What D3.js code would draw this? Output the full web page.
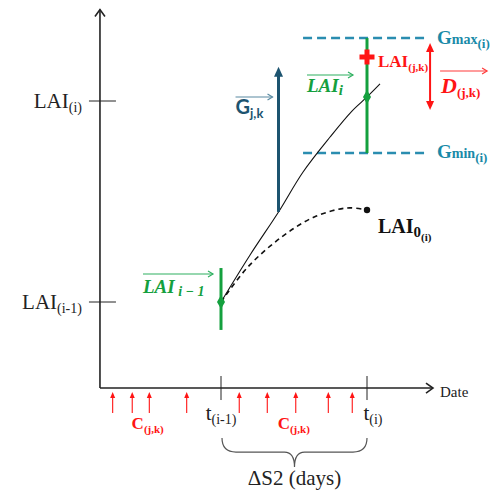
<!DOCTYPE html>
<html><head><meta charset="utf-8">
<script src="https://cdn.jsdelivr.net/npm/d3@7"></script>
<style>body{margin:0;background:#fff}</style>
</head><body><svg id="chart" width="499" height="496"></svg>
<script>
// Time in units of the revisit interval: t(i-1) = 0, t(i) = 1
const timeTicks = [{t: 0, sub: "(i-1)"}, {t: 1, sub: "(i)"}];
const laiTicks = [{v: 1, sub: "(i-1)"}, {v: 2, sub: "(i)"}];
const cropDatesBefore = [-0.742, -0.608, -0.491, -0.235];
const cropDatesWithin = [0.125, 0.317, 0.512, 0.735, 0.899];
const laiAssimilated = [[0, 1], [0.199, 1.234], [0.394, 1.448], [0.562, 1.647], [0.747, 1.821], [0.897, 1.95], [1, 2.02], [1.089, 2.085]];
const laiOpenLoop = [[0, 1], [0.184, 1.174], [0.415, 1.323], [0.639, 1.423], [0.864, 1.468], [1, 1.458]];
const growthIncrement = {t: 0.394, from: 1.448, to: 2.17};
const gBounds = {max: 2.313, min: 1.741, from: 0.562, to: 1.411};
const laiPrev = {t: 0, value: 1, low: 0.861, high: 1.169};
const laiCurr = {t: 1, value: 2.02};
const laiObs = {t: 1, value: 2.219};
const distance = {t: 1.432, low: 1.955, high: 2.289};
const axisExtent = {t: [-0.829, 1.452], v: [0.572, 2.455]};

const svg = d3.select("#chart");
const x = d3.scaleLinear().domain([0, 1]).range([221, 367]);
const y = d3.scaleLinear().domain([1, 2]).range([302, 101]);

const serif = '"Liberation Serif", "Times New Roman", serif';
const sans = 'Lato, "Open Sans", sans-serif';
const green = "#14a03e", red = "#ff1414", teal = "#2a8db0", navy = "#1d5470", ink = "#222";

// text with subscript pieces
function label(xp, yp, parts, opts = {}) {
  const t = svg.append("text").attr("x", xp).attr("y", yp)
    .style("font-family", opts.family || serif)
    .attr("fill", opts.fill || ink)
    .attr("text-anchor", opts.anchor || "start");
  parts.forEach(p => {
    t.append("tspan").text(p.text)
      .attr("font-size", p.size)
      .attr("dy", p.dy || 0)
      .attr("font-weight", p.weight || opts.weight || "normal")
      .attr("font-style", p.style || opts.style || "normal");
  });
  return t;
}
function triangle(cx, tipY, w, h, dir, fill) {
  // dir = -1 points up, +1 points down
  svg.append("path")
    .attr("d", `M${cx},${tipY} L${cx - w / 2},${tipY - dir * h} L${cx + w / 2},${tipY - dir * h} Z`)
    .attr("fill", fill);
}
function overArrow(x0, x1, yp, color) {
  svg.append("line").attr("x1", x0).attr("x2", x1).attr("y1", yp).attr("y2", yp)
    .attr("stroke", color).attr("stroke-width", 1.2);
  svg.append("path").attr("d", `M${x1 - 5},${yp - 3} L${x1},${yp} L${x1 - 5},${yp + 3}`)
    .attr("fill", "none").attr("stroke", color).attr("stroke-width", 1.2);
}

// axes
const x0 = x(axisExtent.t[0]), x1 = x(axisExtent.t[1]);
const yBase = y(axisExtent.v[0]), yTop = y(axisExtent.v[1]);
svg.append("line").attr("x1", x0).attr("x2", x0).attr("y1", yBase).attr("y2", yTop)
  .attr("stroke", ink).attr("stroke-width", 1.6);
svg.append("path").attr("d", `M${x0 - 5},${yTop + 7} L${x0},${yTop} L${x0 + 5},${yTop + 7}`)
  .attr("fill", "none").attr("stroke", ink).attr("stroke-width", 1.6);
svg.append("line").attr("x1", x0).attr("x2", x1).attr("y1", yBase).attr("y2", yBase)
  .attr("stroke", ink).attr("stroke-width", 1.6);
svg.append("path").attr("d", `M${x1 - 7},${yBase - 5} L${x1},${yBase} L${x1 - 7},${yBase + 5}`)
  .attr("fill", "none").attr("stroke", ink).attr("stroke-width", 1.6);
label(x1 + 7, yBase + 9, [{text: "Date", size: 15}]);

// LAI ticks on the vertical axis
laiTicks.forEach(d => {
  svg.append("line").attr("x1", x0 - 11).attr("x2", x0 + 16)
    .attr("y1", y(d.v)).attr("y2", y(d.v)).attr("stroke", ink).attr("stroke-width", 1);
  label(x0 - 18, y(d.v) + 7, [{text: "LAI", size: 21}, {text: d.sub, size: 14, dy: 4}], {anchor: "end"});
});

// date ticks on the time axis
timeTicks.forEach((d, i) => {
  svg.append("line").attr("x1", x(d.t)).attr("x2", x(d.t))
    .attr("y1", yBase - 12).attr("y2", yBase + 12).attr("stroke", ink).attr("stroke-width", 1);
  label(x(d.t) + (i ? 6 : 0), yBase + 32, [{text: "t", size: 21}, {text: d.sub, size: 14, dy: 4}], {anchor: "middle"});
});

// crop observation dates
cropDatesBefore.concat(cropDatesWithin).forEach(t => {
  svg.append("line").attr("x1", x(t)).attr("x2", x(t))
    .attr("y1", yBase + 25).attr("y2", yBase + 8).attr("stroke", red).attr("stroke-width", 1.1);
  triangle(x(t), yBase + 4, 5, 6, -1, red);
});
[cropDatesBefore, cropDatesWithin].forEach(g => {
  const cx = (x(g[0]) + x(g[g.length - 1])) / 2 - 2;
  label(cx, yBase + 41, [{text: "C", size: 17}, {text: "(j,k)", size: 11, dy: 4}],
    {anchor: "middle", fill: red, weight: "bold"});
});

// brace spanning the interval
const bY = yBase + 50, bL = x(0) + 1, bR = x(1), bM = (bL + bR) / 2;
const brace = d3.path();
brace.moveTo(bL, bY);
brace.quadraticCurveTo(bL, bY + 14, bL + 14, bY + 14);
brace.lineTo(bM - 10, bY + 14);
brace.quadraticCurveTo(bM, bY + 14, bM, bY + 29);
brace.quadraticCurveTo(bM, bY + 14, bM + 10, bY + 14);
brace.lineTo(bR - 14, bY + 14);
brace.quadraticCurveTo(bR, bY + 14, bR, bY);
svg.append("path").attr("d", brace.toString()).attr("fill", "none")
  .attr("stroke", "#555").attr("stroke-width", 1.2);
label(bM, yBase + 97, [{text: "ΔS2 (days)", size: 21}], {anchor: "middle"});

// G bounds
[gBounds.max, gBounds.min].forEach(v => {
  svg.append("line").attr("x1", x(gBounds.from)).attr("x2", x(gBounds.to))
    .attr("y1", y(v)).attr("y2", y(v)).attr("stroke", teal)
    .attr("stroke-width", 2.5).attr("stroke-dasharray", "9,5");
});
label(x(gBounds.to) + 10, y(gBounds.max) + 6,
  [{text: "G", size: 19}, {text: "max", size: 14}, {text: "(i)", size: 13, dy: 4}],
  {fill: "#1a8aa8", weight: "bold"});
label(x(gBounds.to) + 10, y(gBounds.min) + 5,
  [{text: "G", size: 19}, {text: "min", size: 14}, {text: "(i)", size: 13, dy: 4}],
  {fill: "#1a8aa8", weight: "bold"});

// curves
const line = d3.line().x(d => x(d[0])).y(d => y(d[1])).curve(d3.curveCatmullRom);
svg.append("path").attr("d", line(laiOpenLoop)).attr("fill", "none")
  .attr("stroke", "#111").attr("stroke-width", 1.6).attr("stroke-dasharray", "5,4");
svg.append("path").attr("d", line(laiAssimilated)).attr("fill", "none")
  .attr("stroke", "#111").attr("stroke-width", 1.1);
const last = laiOpenLoop[laiOpenLoop.length - 1];
svg.append("circle").attr("cx", x(last[0])).attr("cy", y(last[1])).attr("r", 3.2).attr("fill", "#111");
label(x(last[0]) + 11, y(last[1]) + 23,
  [{text: "LAI", size: 20}, {text: "0", size: 15, dy: 4}, {text: "(i)", size: 11, dy: 4}],
  {weight: "bold", fill: "#111"});

// growth increment G(j,k)
svg.append("line").attr("x1", x(growthIncrement.t)).attr("x2", x(growthIncrement.t))
  .attr("y1", y(growthIncrement.from)).attr("y2", y(growthIncrement.to) + 8)
  .attr("stroke", navy).attr("stroke-width", 3);
triangle(x(growthIncrement.t), y(growthIncrement.to), 9, 10, -1, navy);
overArrow(x(growthIncrement.t) - 43, x(growthIncrement.t) - 6, 97, "#5b8aa2");
label(x(growthIncrement.t) - 43, 114, [{text: "G", size: 20}, {text: "j,k", size: 13, dy: 4}],
  {fill: navy, weight: "bold", family: sans});

// LAI at t(i-1)
svg.append("line").attr("x1", x(laiPrev.t)).attr("x2", x(laiPrev.t))
  .attr("y1", y(laiPrev.low)).attr("y2", y(laiPrev.high)).attr("stroke", green).attr("stroke-width", 3);
svg.append("path").attr("d", d3.symbol(d3.symbolDiamond, 55)())
  .attr("transform", `translate(${x(laiPrev.t)},${y(laiPrev.value)})`).attr("fill", green);
overArrow(x(laiPrev.t) - 78, x(laiPrev.t) - 8, y(laiPrev.value) - 28, "#2eb060");
label(x(laiPrev.t) - 78, y(laiPrev.value) - 9,
  [{text: "LAI", size: 19}, {text: " i − 1", size: 14, dy: 3}],
  {fill: green, weight: "bold", style: "italic"});

// LAI at t(i)
svg.append("line").attr("x1", x(laiCurr.t)).attr("x2", x(laiCurr.t))
  .attr("y1", y(gBounds.min)).attr("y2", y(gBounds.max)).attr("stroke", green).attr("stroke-width", 3);
svg.append("path").attr("d", d3.symbol(d3.symbolDiamond, 55)())
  .attr("transform", `translate(${x(laiCurr.t)},${y(laiCurr.value)})`).attr("fill", green);
overArrow(x(laiCurr.t) - 60, x(laiCurr.t) - 14, 75, "#2eb060");
label(x(laiCurr.t) - 60, 92, [{text: "LAI", size: 19}, {text: "i", size: 15, dy: 3}],
  {fill: green, weight: "bold", style: "italic"});

// observed LAI(j,k)
svg.append("path").attr("d", d3.symbol(d3.symbolCross, 125)())
  .attr("transform", `translate(${x(laiObs.t)},${y(laiObs.value)})`).attr("fill", red);
label(x(laiObs.t) + 11, y(laiObs.value) + 10, [{text: "LAI", size: 17}, {text: "(j,k)", size: 11, dy: 4}],
  {fill: red, weight: "bold"});

// distance D(j,k)
svg.append("line").attr("x1", x(distance.t)).attr("x2", x(distance.t))
  .attr("y1", y(distance.high) + 7).attr("y2", y(distance.low) - 7)
  .attr("stroke", red).attr("stroke-width", 2);
triangle(x(distance.t), y(distance.high), 8, 9, -1, red);
triangle(x(distance.t), y(distance.low), 8, 9, 1, red);
overArrow(x(distance.t) + 10, x(distance.t) + 57, 71, "#ff3a3a");
label(x(distance.t) + 11, 93, [{text: "D", size: 22, style: "italic"}, {text: "(j,k)", size: 13, dy: 4}],
  {fill: red, weight: "bold"});
</script></body></html>
